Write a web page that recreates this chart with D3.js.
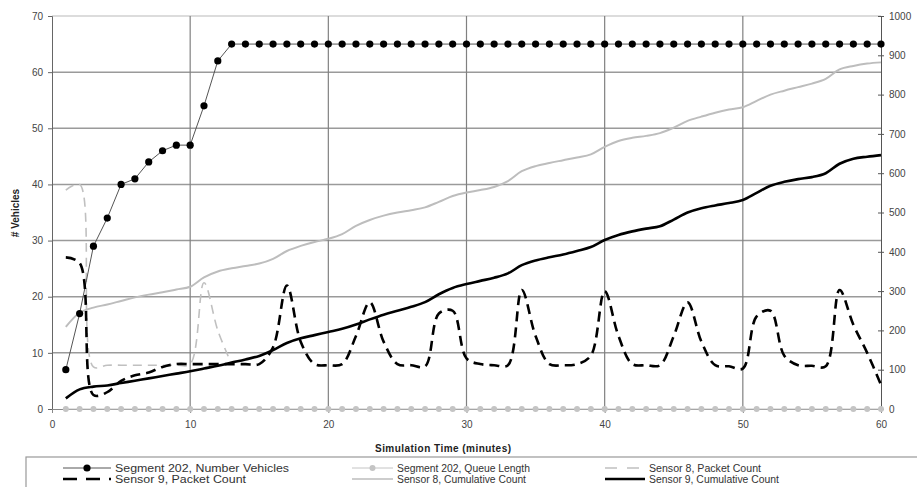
<!DOCTYPE html>
<html>
<head>
<meta charset="utf-8">
<script src="https://cdn.jsdelivr.net/npm/d3@7"></script>
<style>
  html, body { margin: 0; padding: 0; background: #ffffff; }
  svg { display: block; font-family: "Liberation Sans", Arial, sans-serif; }
</style>
</head>
<body>
<svg id="chart" width="917" height="487"></svg>
<script>
// Simulation minutes 1..60
const minutes = d3.range(1, 61);

// Segment 202, number of vehicles (left axis)
const segVehicles = [7, 17, 29, 34, 40, 41, 44, 46, 47, 47, 54, 62,
  65, 65, 65, 65, 65, 65, 65, 65, 65, 65, 65, 65, 65, 65, 65, 65, 65, 65,
  65, 65, 65, 65, 65, 65, 65, 65, 65, 65, 65, 65, 65, 65, 65, 65, 65, 65,
  65, 65, 65, 65, 65, 65, 65, 65, 65, 65, 65, 65];

// Segment 202, queue length (left axis)
const segQueue = minutes.map(() => 0);

// Sensor 8 packet count (left axis), reported for the first 13 minutes
const s8Minutes = d3.range(1, 14);
const s8Packets = [39, 40, 7.5, 7.8, 7.8, 7.8, 7.8, 7.8, 7.8, 8, 22.5, 14, 8];

// Sensor 9 packet count (left axis)
const s9Packets = [27, 26, 2.5, 3, 5, 6, 6.5, 7.5, 8, 8, 8, 8, 8, 8, 8, 11, 22, 12,
  8, 7.8, 8, 13, 19, 12, 8, 7.8, 7.6, 17, 17.5, 9, 8, 7.8, 7.8, 21.2, 13, 8,
  7.8, 8, 9.5, 21, 13, 8, 7.8, 7.8, 13, 19, 12, 7.8, 7.6, 7.2, 16.5, 17.5, 9.5, 7.8,
  7.7, 7.6, 21.2, 15, 10, 4.3];

// Cumulative counts (right axis)
const s8Cumulative = [209, 245, 258, 266, 275, 284, 291, 297, 304, 311, 335, 350, 358,
  364, 370, 382, 402, 415, 425, 433, 445, 466, 481, 492, 500, 506, 513, 527, 542, 551,
  557, 565, 580, 605, 618, 626, 633, 640, 648, 667, 682, 690, 695, 702, 716, 733, 744,
  754, 762, 768, 784, 800, 810, 819, 828, 840, 864, 873, 879, 882];
const s9Cumulative = [27, 50, 57, 60, 66, 72, 78, 84, 90, 96, 103, 110, 118, 126, 135,
  150, 168, 180, 188, 196, 204, 215, 228, 240, 250, 260, 272, 292, 308, 318, 326, 334,
  345, 366, 378, 386, 393, 402, 412, 430, 443, 452, 459, 465, 482, 500, 511, 518, 524,
  532, 550, 568, 578, 585, 590, 600, 624, 637, 642, 646];

// Axis ticks
const xTicks = [0, 10, 20, 30, 40, 50, 60];
const leftTicks = [0, 10, 20, 30, 40, 50, 60, 70];
const rightTicks = [0, 100, 200, 300, 400, 500, 600, 700, 800, 900, 1000];

const legendLabels = [
  "Segment 202, Number Vehicles", "Segment 202, Queue Length", "Sensor 8, Packet Count",
  "Sensor 9, Packet Count", "Sensor 8, Cumulative Count", "Sensor 9, Cumulative Count"
];

const svg = d3.select("#chart");
const plot = { left: 52, right: 881, top: 16, bottom: 409 };

const x = d3.scaleLinear().domain([0, 60]).range([plot.left, plot.right]);
const yL = d3.scaleLinear().domain([0, 70]).range([plot.bottom, plot.top]);
const yR = d3.scaleLinear().domain([0, 1000]).range([plot.bottom, plot.top]);

// Gridlines
const grid = svg.append("g");
grid.selectAll("line.h").data(leftTicks.filter(d => d > 0)).join("line")
  .attr("x1", plot.left).attr("x2", plot.right)
  .attr("y1", d => yL(d)).attr("y2", d => yL(d))
  .attr("stroke", d => d === 70 ? "#d0d0d0" : "#9a9a9a").attr("stroke-width", 1.5);
grid.selectAll("line.v").data(xTicks.filter(d => d > 0 && d < 60)).join("line")
  .attr("x1", d => x(d)).attr("x2", d => x(d))
  .attr("y1", plot.top).attr("y2", plot.bottom)
  .attr("stroke", "#808080").attr("stroke-width", 1.2);

// Axes
const tickFont = g => g.selectAll("text")
  .attr("font-size", 10).attr("fill", "#444")
  .attr("font-family", "\"Liberation Sans\", Arial, sans-serif");

const leftAxis = svg.append("g").attr("transform", `translate(${plot.left},0)`)
  .call(d3.axisLeft(yL).tickValues(leftTicks).tickSize(4).tickPadding(5).tickFormat(d3.format("d")));
leftAxis.call(tickFont);
leftAxis.selectAll("line, path").attr("stroke", "#666");

const rightAxis = svg.append("g").attr("transform", `translate(${plot.right},0)`)
  .call(d3.axisRight(yR).tickValues(rightTicks).tickSize(3).tickPadding(5).tickFormat(d3.format("d")));
rightAxis.call(tickFont);
rightAxis.selectAll("line, path").attr("stroke", "#555");
rightAxis.selectAll(".tick line").attr("x1", -3);

const bottomAxis = svg.append("g").attr("transform", `translate(0,${plot.bottom})`)
  .call(d3.axisBottom(x).tickValues(xTicks).tickSize(4).tickPadding(8).tickFormat(d3.format("d")));
bottomAxis.call(tickFont);
bottomAxis.selectAll("line, path").attr("stroke", "#888");

// Axis titles
svg.append("text").attr("x", 443).attr("y", 452).attr("text-anchor", "middle")
  .attr("font-size", 10).attr("font-weight", "bold").attr("fill", "#222")
  .attr("textLength", 136).text("Simulation Time (minutes)");
svg.append("text").attr("transform", "translate(19,213) rotate(-90)")
  .attr("text-anchor", "middle").attr("font-size", 10).attr("font-weight", "bold")
  .attr("fill", "#222").text("# Vehicles");

// Series
const smooth = d3.curveCatmullRom.alpha(0.5);
const lineL = (xs, vals, curve) => d3.line().x((d, i) => x(xs[i])).y(d => yL(d)).curve(curve)(vals);
const lineR = (xs, vals, curve) => d3.line().x((d, i) => x(xs[i])).y(d => yR(d)).curve(curve)(vals);

// Queue length: flat gray line with gray markers
svg.append("path").attr("d", lineL(minutes, segQueue, d3.curveLinear))
  .attr("fill", "none").attr("stroke", "#c4c4c4").attr("stroke-width", 1);
svg.append("g").selectAll("circle").data(segQueue).join("circle")
  .attr("cx", (d, i) => x(minutes[i])).attr("cy", d => yL(d)).attr("r", 3)
  .attr("fill", "#c4c4c4");

// Sensor 8 packet count
svg.append("path").attr("d", lineL(s8Minutes, s8Packets, smooth))
  .attr("fill", "none").attr("stroke", "#c0c0c0").attr("stroke-width", 1.6)
  .attr("stroke-dasharray", "9,6");

// Sensor 8 cumulative count
svg.append("path").attr("d", lineR(minutes, s8Cumulative, smooth))
  .attr("fill", "none").attr("stroke", "#bdbdbd").attr("stroke-width", 2);

// Number of vehicles
svg.append("path").attr("d", lineL(minutes, segVehicles, d3.curveLinear))
  .attr("fill", "none").attr("stroke", "#555").attr("stroke-width", 1);
svg.append("g").selectAll("circle").data(segVehicles).join("circle")
  .attr("cx", (d, i) => x(minutes[i])).attr("cy", d => yL(d)).attr("r", 3.6)
  .attr("fill", "#000");

// Sensor 9 packet count
svg.append("path").attr("d", lineL(minutes, s9Packets, smooth))
  .attr("fill", "none").attr("stroke", "#000").attr("stroke-width", 2.6)
  .attr("stroke-dasharray", "10,6");

// Sensor 9 cumulative count
svg.append("path").attr("d", lineR(minutes, s9Cumulative, smooth))
  .attr("fill", "none").attr("stroke", "#000").attr("stroke-width", 2.6);

// Legend
const legend = svg.append("g");
legend.append("rect").attr("x", 26).attr("y", 457).attr("width", 900).attr("height", 40)
  .attr("fill", "#fff").attr("stroke", "#999").attr("stroke-width", 1.2);

const cols = [{ sx: 63, tx: 115 }, { sx: 352, tx: 397 }, { sx: 605, tx: 649 }];
const rows = [468, 479];
const textWidths = [174, 133, 112, 131, 129, 130];
const symbols = [
  { stroke: "#555", w: 1, dash: null, marker: "#000", r: 3.6 },
  { stroke: "#c4c4c4", w: 1, dash: null, marker: "#c4c4c4", r: 3 },
  { stroke: "#c0c0c0", w: 1.6, dash: "12,10", marker: null },
  { stroke: "#000", w: 2.6, dash: "14,9", marker: null },
  { stroke: "#bdbdbd", w: 1.6, dash: null, marker: null },
  { stroke: "#000", w: 2.6, dash: null, marker: null }
];
legendLabels.forEach((label, i) => {
  const c = cols[i % 3], yy = rows[Math.floor(i / 3)], s = symbols[i];
  const sw = c.tx - c.sx - 4;
  legend.append("line").attr("x1", c.sx).attr("x2", c.sx + sw).attr("y1", yy).attr("y2", yy)
    .attr("stroke", s.stroke).attr("stroke-width", s.w)
    .attr("stroke-dasharray", s.dash);
  if (s.marker) legend.append("circle").attr("cx", c.sx + sw / 2).attr("cy", yy).attr("r", s.r)
    .attr("fill", s.marker);
  legend.append("text").attr("x", c.tx).attr("y", yy + 3.5).attr("font-size", 10)
    .attr("fill", "#333").attr("textLength", textWidths[i]).attr("lengthAdjust", "spacingAndGlyphs")
    .text(label);
});
</script>
</body>
</html>
